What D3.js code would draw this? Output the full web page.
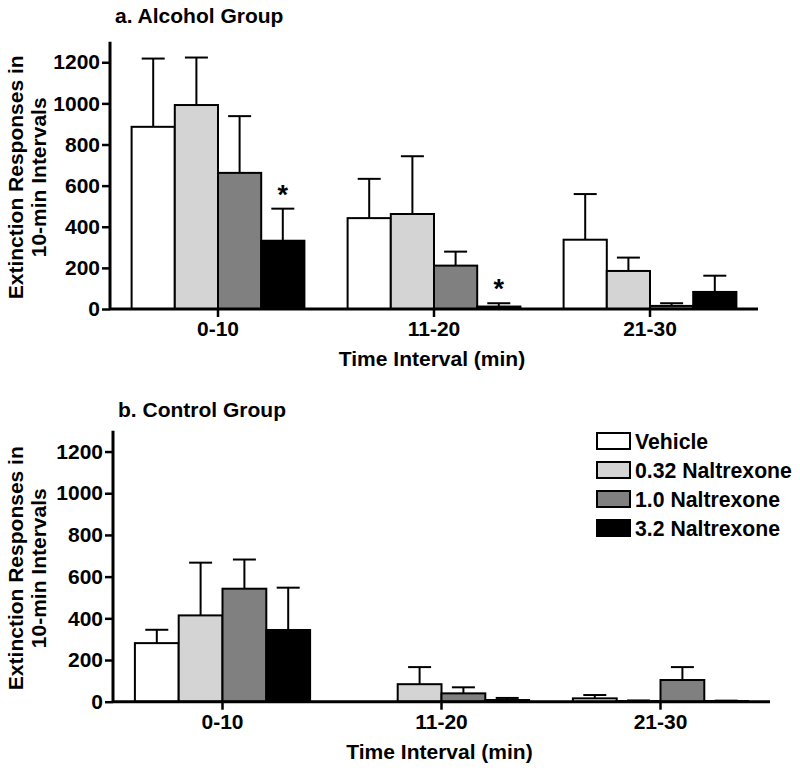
<!DOCTYPE html>
<html>
<head>
<meta charset="utf-8">
<script src="https://cdn.jsdelivr.net/npm/d3@7"></script>
<style>
  html, body { margin: 0; padding: 0; background: #fff; }
  svg { display: block; font-family: "Liberation Sans", Arial, sans-serif; font-weight: bold; }
</style>
</head>
<body>
<svg id="chart" width="800" height="771"></svg>
<script>
// ---- data ----
const categories = ["0-10", "11-20", "21-30"];
const seriesNames = ["Vehicle", "0.32 Naltrexone", "1.0 Naltrexone", "3.2 Naltrexone"];
const seriesColors = ["#ffffff", "#d4d4d4", "#808080", "#000000"];
const yTicks = [0, 200, 400, 600, 800, 1000, 1200];

// Alcohol group: means and SEM per series (across the 3 intervals)
const alcoholVehicle = [886, 442, 337];
const alcoholVehicleSem = [332, 191, 222];
const alcohol032 = [992, 462, 185];
const alcohol032Sem = [231, 281, 65];
const alcohol10 = [662, 211, 15];
const alcohol10Sem = [276, 68, 13];
const alcohol32 = [332, 12, 83];
const alcohol32Sem = [156, 16, 79];
// significance markers: [category index, series index]
const alcoholStars = [[0, 3], [1, 3]];

// Control group
const controlVehicle = [281, 0, 16];
const controlVehicleSem = [64, 0, 16];
const control032 = [414, 84, 3];
const control032Sem = [253, 82, 3];
const control10 = [542, 40, 104];
const control10Sem = [140, 29, 62];
const control32 = [344, 8, 3];
const control32Sem = [203, 10, 2];
const controlStars = [];

// ---- layout ----
const svg = d3.select("#chart");
const FONT = "Liberation Sans, Arial, sans-serif";

const panels = [
  {
    title: "a. Alcohol Group", titleX: 115, titleY: 23,
    means: [alcoholVehicle, alcohol032, alcohol10, alcohol32],
    sems: [alcoholVehicleSem, alcohol032Sem, alcohol10Sem, alcohol32Sem],
    stars: alcoholStars,
    x0: 110, x1: 758, yBase: 309, yTop: 41.7,
    legend: false
  },
  {
    title: "b. Control Group", titleX: 118, titleY: 417,
    means: [controlVehicle, control032, control10, control32],
    sems: [controlVehicleSem, control032Sem, control10Sem, control32Sem],
    stars: controlStars,
    x0: 113, x1: 770, yBase: 701.7, yTop: 430.7,
    legend: true
  }
];

panels.forEach(p => {
  const g = svg.append("g");
  const x = d3.scaleBand().domain(categories).range([p.x0, p.x1]).padding(0);
  const groupW = x.bandwidth() * 0.8;
  const xs = d3.scaleBand().domain(seriesNames).range([0, groupW]).padding(0);
  const y = d3.scaleLinear().domain([0, 1300]).range([p.yBase, p.yTop]);

  // bars
  seriesNames.forEach((s, si) => {
    categories.forEach((c, ci) => {
      const v = p.means[si][ci];
      const e = p.sems[si][ci];
      const bx = x(c) + (x.bandwidth() - groupW) / 2 + xs(s);
      const cx = bx + xs.bandwidth() / 2;
      if (e > 0) {
        g.append("line")
          .attr("x1", cx).attr("x2", cx)
          .attr("y1", y(v)).attr("y2", y(v + e))
          .attr("stroke", "#000").attr("stroke-width", 2);
        g.append("line")
          .attr("x1", cx - 11.5).attr("x2", cx + 11.5)
          .attr("y1", y(v + e)).attr("y2", y(v + e))
          .attr("stroke", "#000").attr("stroke-width", 2);
      }
      g.append("rect")
        .attr("x", bx).attr("width", xs.bandwidth())
        .attr("y", y(v)).attr("height", Math.max(0, y(0) - y(v)))
        .attr("fill", seriesColors[si])
        .attr("stroke", "#000").attr("stroke-width", 2);
    });
  });

  // significance stars
  p.stars.forEach(([ci, si]) => {
    const c = categories[ci], s = seriesNames[si];
    const cx = x(c) + (x.bandwidth() - groupW) / 2 + xs(s) + xs.bandwidth() / 2;
    const top = p.means[si][ci] + p.sems[si][ci];
    g.append("text")
      .attr("x", cx).attr("y", y(top) - 5)
      .attr("text-anchor", "middle")
      .attr("font-size", 27)
      .text("*");
  });

  // y axis
  const yAxis = g.append("g")
    .attr("transform", `translate(${p.x0},0)`)
    .call(d3.axisLeft(y).tickValues(yTicks).tickSize(8).tickPadding(2).tickFormat(d3.format("d")));
  yAxis.select(".domain").attr("d", `M0,${p.yTop}V${p.yBase}`).attr("stroke-width", 3);
  yAxis.selectAll(".tick line").attr("stroke-width", 2.5);
  yAxis.selectAll(".tick text").attr("font-size", 21).attr("font-weight", "bold")
    .attr("font-family", FONT).attr("fill", "#000");

  // x axis
  const xAxis = g.append("g")
    .attr("transform", `translate(0,${p.yBase})`)
    .call(d3.axisBottom(x).tickSize(8).tickPadding(4));
  xAxis.select(".domain").attr("d", `M${p.x0},0H${p.x1}`).attr("stroke-width", 3);
  xAxis.selectAll(".tick line").attr("stroke-width", 2.5);
  xAxis.selectAll(".tick text").attr("font-size", 21).attr("font-weight", "bold")
    .attr("font-family", FONT).attr("fill", "#000");

  // titles
  g.append("text").attr("x", p.titleX).attr("y", p.titleY)
    .attr("font-size", 21).text(p.title);
  g.append("text")
    .attr("x", (p.x0 + p.x1) / 2 - 2).attr("y", p.yBase + 57)
    .attr("text-anchor", "middle").attr("font-size", 21)
    .text("Time Interval (min)");

  const yc = (p.yBase + p.yTop) / 2 + 2;
  const yt = g.append("text")
    .attr("transform", `translate(23,${yc}) rotate(-90)`)
    .attr("text-anchor", "middle").attr("font-size", 21);
  yt.append("tspan").attr("x", 0).attr("dy", 0).text("Extinction Responses in");
  yt.append("tspan").attr("x", 0).attr("dy", 23).text("10-min Intervals");

  // legend
  if (p.legend) {
    const lg = g.append("g").attr("transform", "translate(597,433)");
    const labels = [];
    seriesNames.forEach((s, i) => {
      const row = lg.append("g").attr("transform", `translate(0,${i * 29})`);
      row.append("rect").attr("x", 0).attr("y", 0).attr("width", 33).attr("height", 16)
        .attr("fill", seriesColors[i]).attr("stroke", "#000").attr("stroke-width", 2);
      labels.push(row.append("text").attr("x", 38).attr("y", 16).attr("font-size", 22).text(s));
    });
    // fit the widest label into the space available (as in the reference)
    const maxW = d3.max(labels, t => t.node().getComputedTextLength());
    const avail = 157;
    if (maxW > avail) {
      const fs = 22 * avail / maxW;
      labels.forEach(t => t.attr("font-size", fs));
    }
  }
});
</script>
</body>
</html>
